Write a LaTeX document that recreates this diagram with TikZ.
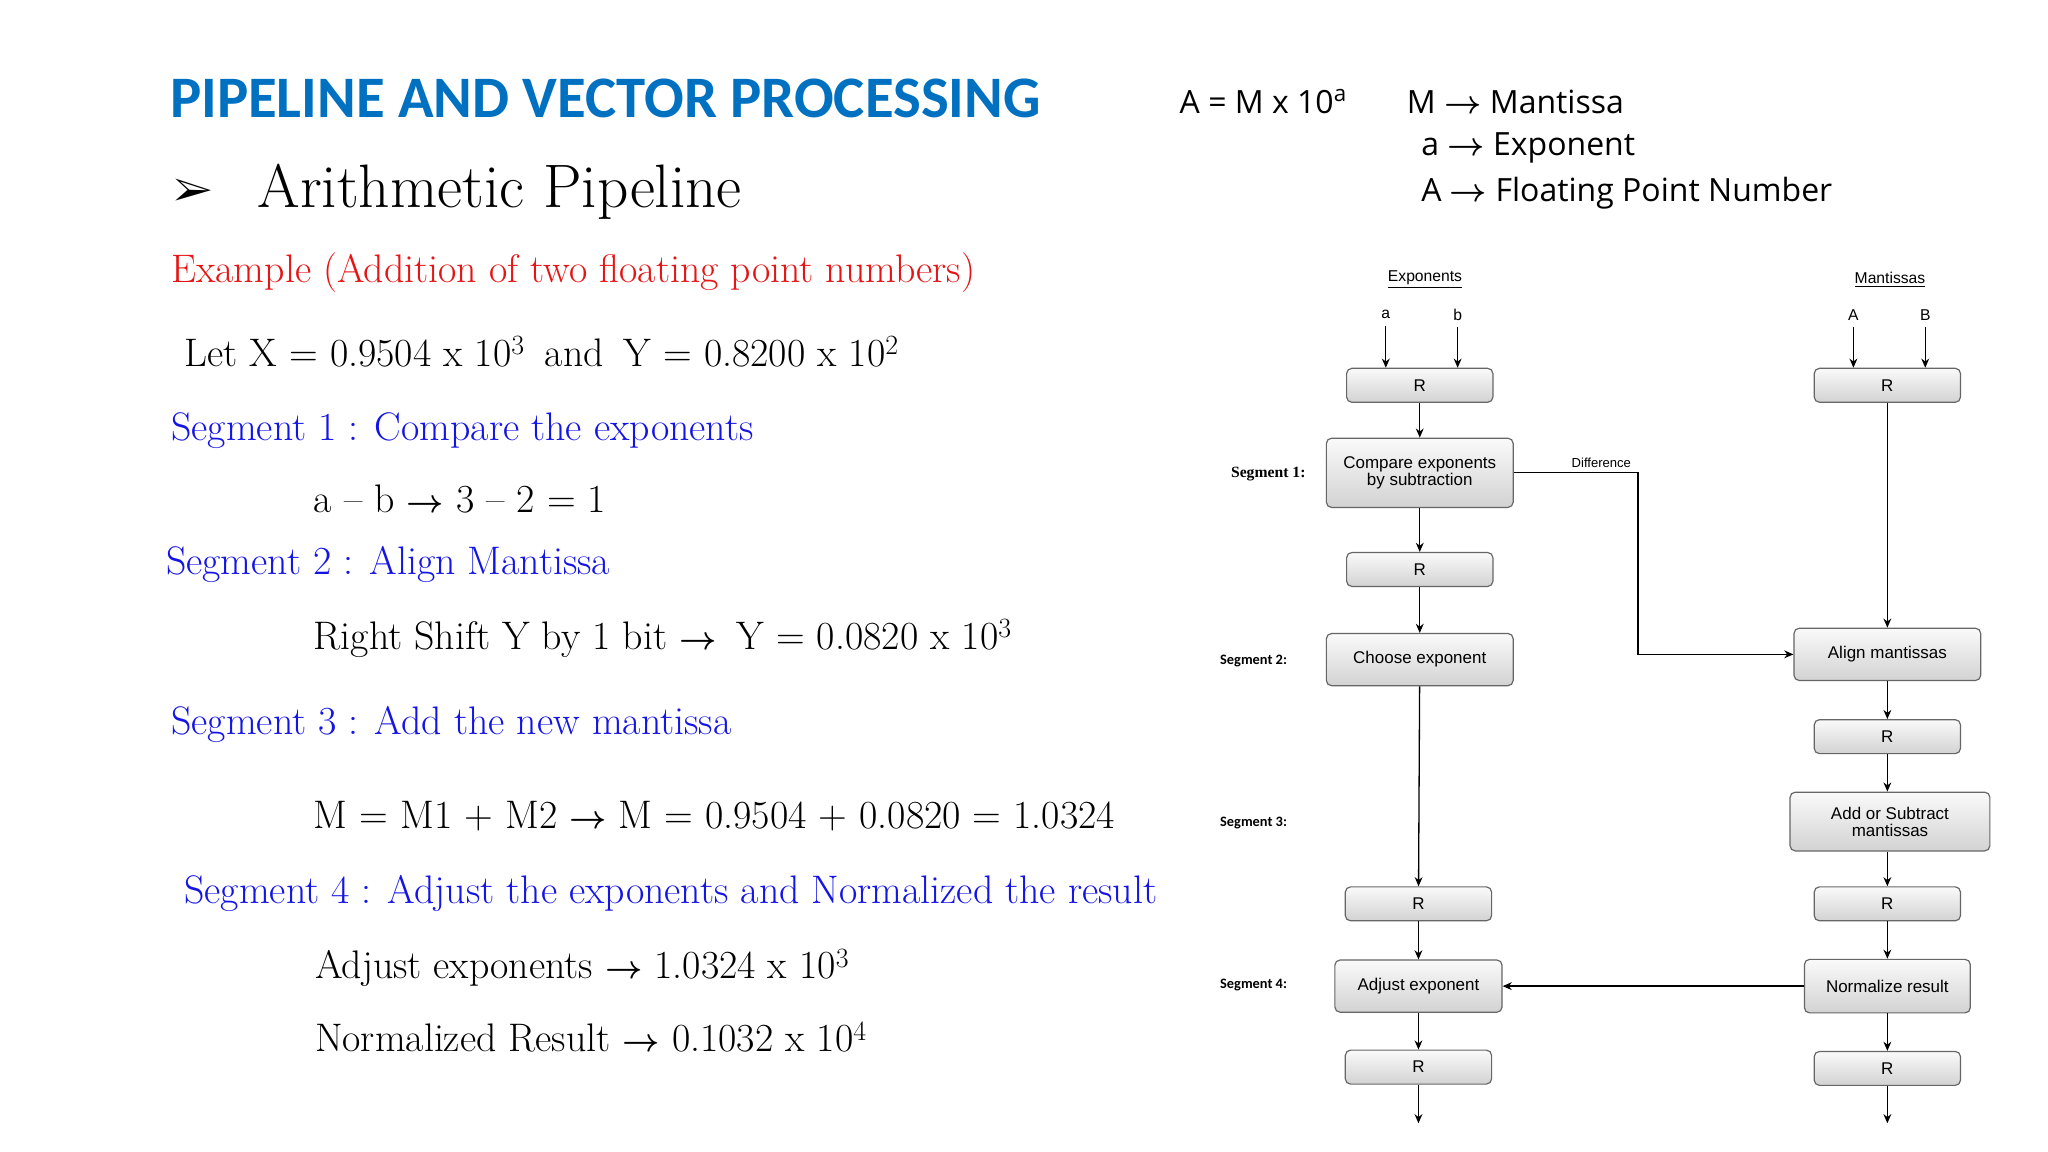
\documentclass[tikz,border=0pt]{standalone}
\usepackage{amsmath,amssymb}
\usepackage{fontspec}
\usepackage{pifont}
\usetikzlibrary{arrows.meta}
\newfontfamily\calfont{Carlito}
\newfontfamily\arfont{Liberation Sans}
\newfontfamily\osfont{Open Sans}
\newfontfamily\tmfont{Liberation Serif}
\definecolor{ttlblue}{RGB}{0,112,192}
\definecolor{segblue}{RGB}{20,20,230}
\definecolor{exred}{RGB}{230,20,20}
\newcommand{\fs}[1]{\fontsize{#1}{#1}\selectfont}
\newcommand{\ar}{$\boldsymbol{\rightarrow}$}
\begin{document}
\begin{tikzpicture}[x=1pt,y=-1pt,
  txt/.style={anchor=west,inner sep=0pt},
  body/.style={txt,font=\fs{30.5}},
  seg/.style={body,text=segblue},
  box/.style={draw=gray!80!black,rounded corners=4pt,top color=gray!4,bottom color=gray!35,
    font=\arfont\fs{13},align=center,inner sep=0pt,line width=0.9pt},
  reg/.style={box,minimum width=112pt,minimum height=26pt},
  ar/.style={-{Stealth[length=7pt,width=6pt]},line width=1pt},
  lbl/.style={font=\arfont\fs{12},inner sep=1pt},
  sl/.style={font=\calfont\bfseries\fs{11},inner sep=0pt,anchor=west}]
\useasboundingbox (0,0) rectangle (1568,882);
\fill[white] (0,0) rectangle (1568,882);
% left text
\node[txt,font=\calfont\bfseries\fs{45},text=ttlblue] (title) at (130,75) {PIPELINE AND VECTOR PROCESSING};
\node[txt,font=\fs{32}] (bul) at (133,147) {\ding{226}};
\node[txt,font=\fs{47}] (arith) at (197,147) {Arithmetic Pipeline};
\node[body,text=exred] (ex) at (131,209) {Example (Addition of two floating point numbers)};
\node[body] (letx) at (141,269) {Let X = 0.9504 x 10\textsuperscript{3}\enspace and\enspace Y = 0.8200 x 10\textsuperscript{2}};
\node[seg] (s1) at (131,330) {Segment 1 : Compare the exponents};
\node[body] (l1) at (240,382) {a -- b \ar{} 3 -- 2 = 1};
\node[seg] (s2) at (127,432) {Segment 2 : Align Mantissa};
\node[body] (l2) at (240,489) {Right Shift Y by 1 bit \ar{}\enspace Y = 0.0820 x 10\textsuperscript{3}};
\node[seg] (s3) at (131,555) {Segment 3 : Add the new mantissa};
\node[body] (l3) at (240,625) {M = M1 + M2 \ar{} M = 0.9504 + 0.0820 = 1.0324};
\node[seg] (s4) at (141,684) {Segment 4 : Adjust the exponents and Normalized the result};
\node[body] (l4) at (241,741) {Adjust exponents \ar{} 1.0324 x 10\textsuperscript{3}};
\node[body] (l5) at (241,794) {Normalized Result \ar{} 0.1032 x 10\textsuperscript{4}};
% top right
\node[txt,font=\osfont\fs{24.5}] (f) at (903,78) {A = M x 10\textsuperscript{a}};
\node[txt,font=\osfont\fs{24.5}] (m) at (1077,78) {M \ar{} Mantissa};
\node[txt,font=\osfont\fs{24.5}] (e) at (1088,113) {a \ar{} Exponent};
\node[txt,font=\osfont\fs{24.5}] (fp) at (1088,148) {A \ar{} Floating Point Number};
% diagram
\node[lbl] (expl) at (1091,214) {\underline{Exponents}};
\node[lbl] (manl) at (1447,214) {\underline{Mantissas}};
\node[lbl] (ia) at (1061,241) {a};
\node[lbl] (ib) at (1116,241) {b};
\node[lbl] (iA) at (1419,241) {A};
\node[lbl] (iB) at (1474,241) {B};
\node[reg] (r1) at (1087,295) {R};
\node[reg] (r1m) at (1445,295) {R};
\node[box,minimum width=143pt,minimum height=53pt] (cmp) at (1087,362) {Compare exponents\\by subtraction};
\node[reg] (r2) at (1087,436) {R};
\node[box,minimum width=143pt,minimum height=40pt] (cho) at (1087,505) {Choose exponent};
\node[box,minimum width=143pt,minimum height=40pt] (ali) at (1445,501) {Align mantissas};
\node[reg] (r2m) at (1445,564) {R};
\node[box,minimum width=153pt,minimum height=45pt] (add) at (1447,629) {Add or Subtract\\mantissas};
\node[reg] (r3) at (1086,692) {R};
\node[reg] (r3m) at (1445,692) {R};
\node[box,minimum width=128pt,minimum height=40pt] (adj) at (1086,755) {Adjust exponent};
\node[box,minimum width=127pt,minimum height=41pt] (nor) at (1445,755) {Normalize result};
\node[reg] (r4) at (1086,817) {R};
\node[reg] (r4m) at (1445,818) {R};
\coordinate (o1) at (1086,860);
\coordinate (o2) at (1445,860);
\node[font=\tmfont\bfseries\fs{12},inner sep=0pt] (sg1) at (971,363) {Segment 1:};
\node[sl] (sg2) at (934,506) {Segment 2:};
\node[sl] (sg3) at (934,630) {Segment 3:};
\node[sl] (sg4) at (934,754) {Segment 4:};
\draw[ar] (ia.south) ++(0,4) -- (ia.south |- r1.north);
\draw[ar] (ib.south) ++(0,4) -- (ib.south |- r1.north);
\draw[ar] (iA.south) ++(0,4) -- (iA.south |- r1m.north);
\draw[ar] (iB.south) ++(0,4) -- (iB.south |- r1m.north);
\draw[ar] (r1) -- (cmp);
\draw[ar] (cmp) -- (r2);
\draw[ar] (r2) -- (cho);
\draw[ar] (cho) -- (r3);
\draw[ar] (r3) -- (adj);
\draw[ar] (adj) -- (r4);
\draw[ar] (r4) -- (o1);
\draw[ar] (r1m) -- (ali);
\draw[ar] (ali) -- (r2m);
\draw[ar] (r2m) -- (r2m |- add.north);
\draw[ar] (r2m |- add.south) -- (r3m);
\draw[ar] (r3m) -- (nor);
\draw[ar] (nor) -- (r4m);
\draw[ar] (r4m) -- (o2);
\draw[ar] (cmp.east) -- (1254,362) |- (ali.west);
\node[font=\arfont\fs{10},inner sep=0pt] (dif) at (1226,354) {Difference};
\draw[ar] (nor.west) -- (adj.east);
\end{tikzpicture}
\end{document}
